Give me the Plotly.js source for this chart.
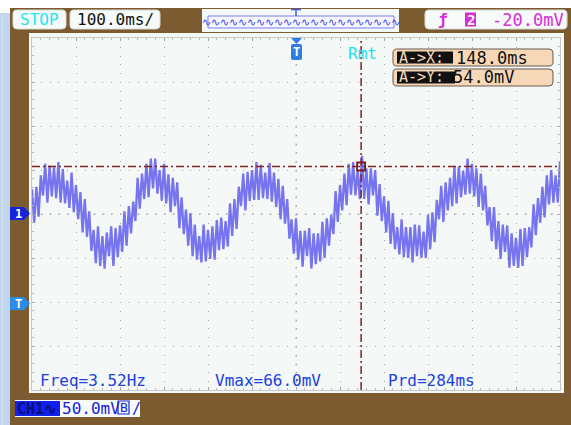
<!DOCTYPE html>
<html>
<head>
<meta charset="utf-8">
<script src="https://cdn.plot.ly/plotly-3.0.1.min.js"></script>
<style>
  html, body { margin: 0; padding: 0; background: #ffffff; }
  #scope { width: 571px; height: 425px; }
</style>
</head>
<body>
<div id="scope"></div>
<script>
// CH1 samples (mV), one every 5 ms starting at -600 ms (12 div x 100 ms/div)
const ch1StartMs = -600;
const ch1StepMs = 5;
const ch1mV = [
  28,-10,31,-3,44,21,57,13,55,20,
  53,18,59,13,51,12,38,7,47,2,
  33,-6,25,-21,17,-26,3,-42,-18,-56,
  -14,-59,-25,-62,-21,-48,-14,-59,-16,-49,
  -13,-43,3,-36,9,-22,14,-8,41,6,
  46,17,57,19,63,29,63,23,50,15,
  57,12,45,2,41,9,36,-16,19,-23,
  5,-36,1,-48,-12,-52,-25,-55,-12,-54,
  -18,-51,-14,-52,-7,-41,-4,-40,-8,-37,
  12,-25,17,-17,31,9,46,4,48,15,
  50,16,59,16,56,18,47,17,58,14,
  47,8,40,-6,32,-11,17,-28,-6,-45,
  -5,-52,-19,-60,-19,-48,-16,-62,-22,-57,
  -22,-54,-9,-50,-5,-36,-1,-23,26,-9,
  33,4,46,10,57,22,59,21,50,17,
  66,17,52,11,52,21,50,-2,34,-8,
  20,-21,15,-34,1,-40,-15,-46,-6,-49,
  -15,-50,-15,-55,-12,-48,-13,-50,-20,-50,
  -1,-40,2,-32,16,-6,32,-9,36,4,
  41,9,54,12,54,19,49,22,63,23,
  57,20,52,8,46,4,32,-13,8,-31,
  8,-40,-8,-51,-12,-43,-13,-61,-22,-59,
  -27,-61,-17,-59,-16,-49,-15,-38,11,-24,
  18,-10,31,-4,44,11,50,13,44,13,
  59
];

// Cursor A readout
const cursorXms = 148.0;
const cursorYmV = 54.0;

// Screen texts
const runState = 'STOP';
const timebase = '100.0ms/';
const trigSource = '2';
const trigLevel = '-20.0mV';
const measureLabels = ['Freq=3.52Hz', 'Vmax=66.0mV', 'Prd=284ms'];
const cursorLabels = ['A->X:', 'A->Y:'];
const cursorValues = ['148.0ms', '54.0mV'];
const chScale = '50.0mV';

// Plot area in pixels
const L = 32, R = 560, T = 38, B = 390;
const px = x => (x - L) / (R - L);
const py = y => (B - y) / (B - T);

const MONO = 'DejaVu Sans Mono, monospace';

function rbox(x0, y0, x1, y1, r, fill, line, lw, layer) {
  const P = (x, y) => px(x).toFixed(5) + ',' + py(y).toFixed(5);
  const d = 'M' + P(x0 + r, y0) + ' L' + P(x1 - r, y0) +
    ' Q' + P(x1, y0) + ' ' + P(x1, y0 + r) +
    ' L' + P(x1, y1 - r) + ' Q' + P(x1, y1) + ' ' + P(x1 - r, y1) +
    ' L' + P(x0 + r, y1) + ' Q' + P(x0, y1) + ' ' + P(x0, y1 - r) +
    ' L' + P(x0, y0 + r) + ' Q' + P(x0, y0) + ' ' + P(x0 + r, y0) + ' Z';
  return { type: 'path', xref: 'paper', yref: 'paper', path: d,
    fillcolor: fill, line: { color: line || 'rgba(0,0,0,0)', width: lw || 0 },
    layer: layer || 'above' };
}
function rect(x0, y0, x1, y1, fill, line, lw, layer) {
  return { type: 'rect', xref: 'paper', yref: 'paper',
    x0: px(x0), x1: px(x1), y0: py(y1), y1: py(y0),
    fillcolor: fill, line: { color: line || 'rgba(0,0,0,0)', width: lw || 0 },
    layer: layer || 'above' };
}
function seg(x0, y0, x1, y1, color, w) {
  return { type: 'line', xref: 'paper', yref: 'paper',
    x0: px(x0), x1: px(x1), y0: py(y0), y1: py(y1),
    line: { color: color, width: w }, layer: 'above' };
}
function poly(pts, fill) {
  const d = pts.map((p, i) => (i ? 'L' : 'M') + px(p[0]).toFixed(5) + ',' + py(p[1]).toFixed(5)).join(' ') + ' Z';
  return { type: 'path', xref: 'paper', yref: 'paper', path: d,
    fillcolor: fill, line: { width: 0 }, layer: 'above' };
}
function label(x, y, text, color, size, anchor, weight) {
  return { xref: 'paper', yref: 'paper', x: px(x), y: py(y), text: text,
    showarrow: false, xanchor: anchor || 'left', yanchor: 'middle',
    borderpad: 0,
    font: { family: MONO, size: size, color: color, weight: weight || 'normal' } };
}

const shapes = [
  // outer frame
  rect(0, 0, 571, 8, '#ffffff', null, 0, 'below'),
  rect(0, 0, 10, 13, '#ffffff', null, 0, 'below'),
  rect(0, 13, 10, 425, '#c2d5ee', null, 0, 'below'),
  rect(2, 13, 3, 425, '#d3e2f3', null, 0, 'below'),
  // screen panel
  rect(29, 33, 564, 393, '#f4f8f6', null, 0, 'below'),

  // status bar boxes
  rbox(13, 10, 66, 29, 4, '#f6faf8', '#d8dcd8', 1),
  rbox(70, 10, 160, 29, 4, '#f6faf8', '#d8dcd8', 1),
  rect(202, 9, 399, 32, '#f4f8f6', null, 0),
  rect(208, 16, 394, 28, '#f4f6fc', '#7d7df0', 1),
  seg(291, 9.5, 301, 9.5, '#3c5fd8', 1.5),
  seg(296, 9.5, 296, 16, '#3c5fd8', 1.5),
  rbox(425, 10, 567, 29, 4, '#f6faf8', '#d8dcd8', 1),
  rect(465, 12.5, 476, 26.5, '#d92bd9', null, 0),

  // trigger position marker
  poly([[291, 38], [302, 38], [296.5, 44]], '#2f7fe0'),
  rbox(291, 44, 302, 60, 2, '#2f7fe0', null, 0),

  // cursor readout boxes
  rbox(393, 49, 553, 66, 4, '#f7d8b6', '#6a5a52', 1),
  rbox(393, 69, 553, 86, 4, '#f7d8b6', '#6a5a52', 1),
  rect(397, 51.5, 453, 63.5, '#111111', null, 0),
  rect(397, 71.5, 455, 83.5, '#111111', null, 0),

  // channel / trigger markers on the left edge
  poly([[10, 207], [24, 207], [30, 213.5], [24, 220], [10, 220]], '#1424d8'),
  poly([[10, 297], [24, 297], [30, 303.5], [24, 310], [10, 310]], '#2a8be8'),

  // channel setting box
  rect(15, 400, 140, 417, '#f6faf8', null, 0),
  rect(15, 401, 60, 416, '#1020f0', null, 0),
  rect(118, 401, 129, 414, 'rgba(0,0,0,0)', '#1a22d8', 1.2),

  // center cross ticks
  { type: 'line', xref: 'x', yref: 'y', x0: -600, x1: 600, y0: 0, y1: 0,
    line: { color: '#a4a8a8', width: 1, dash: '2px,6.8px' }, layer: 'below' },
  { type: 'line', xref: 'x', yref: 'y', x0: 0, x1: 0, y0: 200, y1: -200,
    line: { color: '#a4a8a8', width: 1, dash: '2px,6.8px' }, layer: 'below' },

  // cursor lines
  { type: 'line', xref: 'x', yref: 'paper', x0: cursorXms, x1: cursorXms, y0: 0, y1: 1,
    line: { color: '#8a2020', width: 1.5, dash: '8px,3px,2px,3px' }, layer: 'above' },
  { type: 'line', xref: 'paper', yref: 'y', x0: 0, x1: 1, y0: cursorYmV, y1: cursorYmV,
    line: { color: '#8a2020', width: 1.5, dash: '8px,3px,2px,3px' }, layer: 'above' }
];

const annotations = [
  label(39.5, 19.5, runState, '#1fe6ee', 16, 'center'),
  label(115, 19.5, timebase, '#111111', 16, 'center'),
  label(301, 22, '∿∿∿∿∿∿∿∿∿∿∿∿∿∿∿∿∿∿∿∿∿∿', '#4848ee', 11, 'center'),
  label(443, 19.5, 'ƒ', '#d92bd9', 16, 'center', 'bold'),
  label(470.5, 19.5, trigSource, '#ffffff', 14, 'center', 'bold'),
  label(491, 19.5, trigLevel, '#d92bd9', 17),
  label(296.5, 52.5, 'T', '#ffffff', 12, 'center', 'bold'),
  label(347, 53, 'Rmt', '#22e0ee', 16),
  label(398, 57.5, cursorLabels[0], '#f7d8b6', 15),
  label(455, 57.5, cursorValues[0], '#111111', 17),
  label(398, 77.5, cursorLabels[1], '#f7d8b6', 15),
  label(452, 77.5, cursorValues[1], '#111111', 17),
  label(18, 213.5, '1', '#ffffff', 12, 'center', 'bold'),
  label(18, 303.5, 'T', '#ffffff', 12, 'center', 'bold'),
  label(39, 380, measureLabels[0], '#2140dd', 16),
  label(214, 380, measureLabels[1], '#2140dd', 16),
  label(387, 380, measureLabels[2], '#2140dd', 16),
  label(15.5, 408.5, 'CH1∿', '#0a0f70', 15, 'left', 'bold'),
  label(61, 408.5, chScale, '#1a22d8', 16),
  label(123.5, 408, 'B', '#1a22d8', 13, 'center'),
  label(131, 408.5, '/', '#1a22d8', 15)
];

const traces = [
  { type: 'scatter', mode: 'lines', x0: ch1StartMs, dx: ch1StepMs, y: ch1mV,
    line: { color: '#7674ee', width: 2.3 }, hoverinfo: 'skip' },
  { type: 'scatter', mode: 'markers', x: [cursorXms], y: [cursorYmV],
    marker: { symbol: 'square-open', size: 8, color: '#7a1818', line: { width: 1.8, color: '#7a1818' } },
    hoverinfo: 'skip' }
];

const axisCommon = {
  showticklabels: false, showgrid: true, gridcolor: '#a0a4a4', gridwidth: 1,
  griddash: '1px,7.8px', zeroline: false, showline: true, linecolor: '#c4c8c8',
  linewidth: 1, mirror: 'allticks', ticks: 'inside', ticklen: 3, tickcolor: '#a6aaaa',
  fixedrange: true
};

const layout = {
  width: 571, height: 425,
  margin: { l: L, r: 571 - R, t: T, b: 425 - B, pad: 0 },
  paper_bgcolor: '#7d5b30',
  plot_bgcolor: '#f4f8f6',
  showlegend: false,
  xaxis: Object.assign({}, axisCommon, { range: [-600, 600], tick0: 0, dtick: 100,
    minor: { dtick: 20, ticks: 'inside', ticklen: 2, tickcolor: '#b4b8b8', showgrid: false } }),
  yaxis: Object.assign({}, axisCommon, { range: [-200, 200], tick0: 0, dtick: 50,
    minor: { dtick: 10, ticks: 'inside', ticklen: 2, tickcolor: '#b4b8b8', showgrid: false } }),
  shapes: shapes,
  annotations: annotations
};

Plotly.newPlot('scope', traces, layout, { staticPlot: true, displayModeBar: false });
</script>
</body>
</html>
